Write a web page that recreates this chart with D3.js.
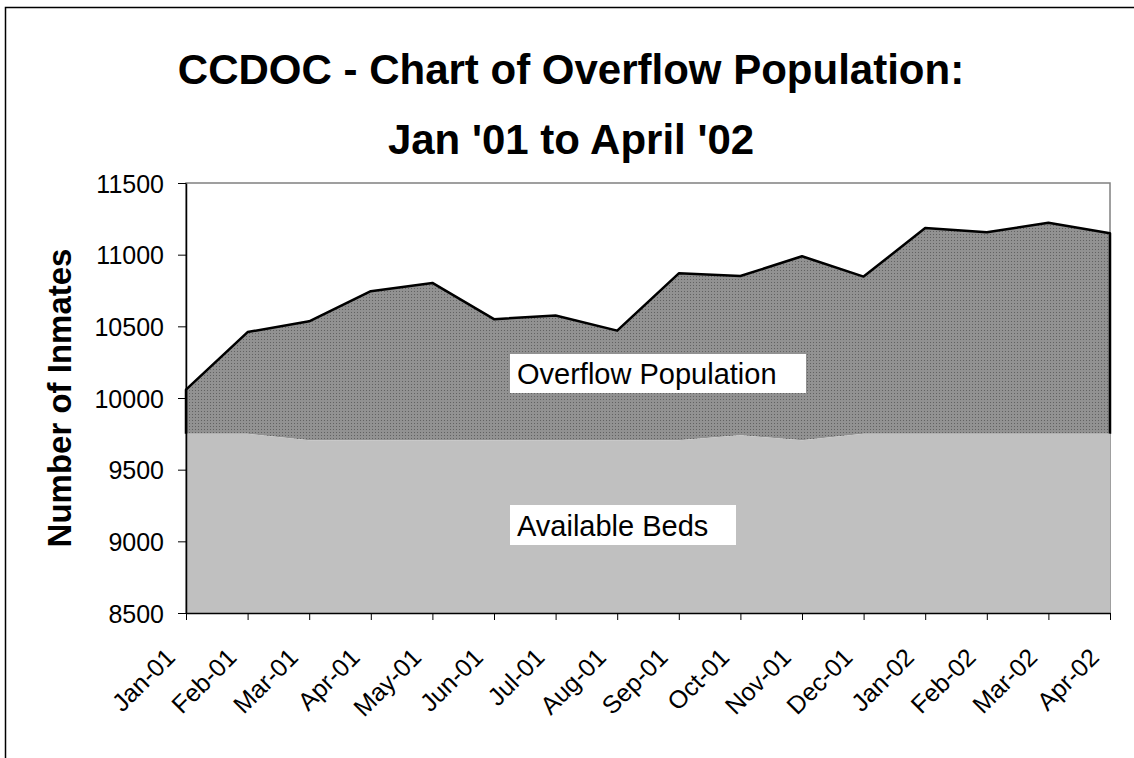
<!DOCTYPE html>
<html>
<head>
<meta charset="utf-8">
<script src="https://cdn.jsdelivr.net/npm/d3@7"></script>
<style>
  body { margin: 0; background: #fff; overflow: hidden; }
  svg { display: block; font-family: Arial, "Liberation Sans", sans-serif; }
</style>
</head>
<body>
<svg id="chart" width="1134" height="758"></svg>
<script>
const months = ["Jan-01", "Feb-01", "Mar-01", "Apr-01", "May-01", "Jun-01", "Jul-01", "Aug-01",
  "Sep-01", "Oct-01", "Nov-01", "Dec-01", "Jan-02", "Feb-02", "Mar-02", "Apr-02"];
const availableBeds = [9750, 9750, 9705, 9705, 9705, 9705, 9705, 9705,
  9705, 9740, 9705, 9750, 9750, 9750, 9750, 9750];
const population = [10058, 10460, 10535, 10745, 10803, 10550, 10575, 10470,
  10870, 10851, 10989, 10847, 11186, 11157, 11222, 11150];
const yTicks = [8500, 9000, 9500, 10000, 10500, 11000, 11500];

const W = 1134, H = 758;
const plot = { left: 186, right: 1110, top: 183, bottom: 613 };
const FONT = "Arial, 'Liberation Sans', sans-serif";

const svg = d3.select("#chart");

// outer chart frame (runs off the right/bottom edge like the original)
svg.append("rect")
  .attr("x", 5.5).attr("y", 7.5)
  .attr("width", W + 20).attr("height", H + 20)
  .attr("fill", "none").attr("stroke", "#000").attr("stroke-width", 1.5);

const defs = svg.append("defs");
const pat = defs.append("pattern")
  .attr("id", "dots").attr("patternUnits", "userSpaceOnUse")
  .attr("width", 3).attr("height", 3);
pat.append("rect").attr("width", 3).attr("height", 3).attr("fill", "#a2a2a2");
pat.append("rect").attr("x", 0).attr("y", 0).attr("width", 1).attr("height", 1).attr("fill", "#626262");
pat.append("rect").attr("x", 1.5).attr("y", 1.5).attr("width", 1).attr("height", 1).attr("fill", "#626262");
pat.append("rect").attr("x", 1.5).attr("y", 0).attr("width", 1).attr("height", 1).attr("fill", "#808080");
pat.append("rect").attr("x", 0).attr("y", 1.5).attr("width", 1).attr("height", 1).attr("fill", "#808080");

const x = d3.scalePoint().domain(months).range([plot.left, plot.right]);
const y = d3.scaleLinear().domain([8500, 11500]).range([plot.bottom, plot.top]);

const rows = months.map((m, i) => ({ m, beds: availableBeds[i], pop: population[i] }));

// plot border (grey top/right)
svg.append("rect")
  .attr("x", plot.left).attr("y", plot.top)
  .attr("width", plot.right - plot.left).attr("height", plot.bottom - plot.top)
  .attr("fill", "none").attr("stroke", "#808080").attr("stroke-width", 1.5);

// overflow area
const overflowArea = d3.area()
  .x(d => x(d.m)).y0(d => y(d.beds)).y1(d => y(d.pop));
svg.append("path").datum(rows)
  .attr("d", overflowArea)
  .attr("fill", "url(#dots)");

// outline: left edge, top line, right edge
const outline = [[x(months[0]), y(availableBeds[0])]]
  .concat(rows.map(d => [x(d.m), y(d.pop)]))
  .concat([[x(months[months.length - 1]), y(availableBeds[availableBeds.length - 1])]]);
svg.append("path")
  .attr("d", d3.line()(outline))
  .attr("fill", "none").attr("stroke", "#000").attr("stroke-width", 2.5)
  .attr("stroke-linejoin", "round");

// available beds area
const bedsArea = d3.area()
  .x(d => x(d.m)).y0(y(8500)).y1(d => y(d.beds));
svg.append("path").datum(rows)
  .attr("d", bedsArea)
  .attr("fill", "#c0c0c0");

// axes
const yAxis = svg.append("g")
  .attr("transform", `translate(${plot.left},0)`)
  .call(d3.axisLeft(y).tickValues(yTicks).tickFormat(d3.format("d"))
    .tickSize(8).tickSizeOuter(0).tickPadding(14));
yAxis.select(".domain").attr("stroke", "#000").attr("stroke-width", 1.5);
yAxis.selectAll(".tick line").attr("stroke", "#000").attr("stroke-width", 1);
yAxis.selectAll("text").attr("font-size", 25).attr("fill", "#000")
  .attr("font-family", FONT).attr("dy", "0.36em");

const xAxis = svg.append("g")
  .attr("transform", `translate(0,${plot.bottom})`)
  .call(d3.axisBottom(x).tickSize(7).tickSizeOuter(0));
xAxis.select(".domain").attr("stroke", "#000").attr("stroke-width", 1.5);
xAxis.selectAll(".tick line").attr("stroke", "#000").attr("stroke-width", 1);
xAxis.selectAll("text")
  .attr("font-size", 25).attr("fill", "#000")
  .attr("font-family", FONT)
  .style("text-anchor", "end")
  .attr("x", 0).attr("y", 0).attr("dx", 0).attr("dy", 0)
  .attr("transform", "translate(-10,46) rotate(-45)");

// titles
svg.append("text")
  .attr("x", 571).attr("y", 84)
  .attr("text-anchor", "middle")
  .attr("font-size", 42).attr("font-weight", "bold")
  .text("CCDOC - Chart of Overflow Population:");
svg.append("text")
  .attr("x", 571).attr("y", 154)
  .attr("text-anchor", "middle")
  .attr("font-size", 42).attr("font-weight", "bold")
  .text("Jan '01 to April '02");

svg.append("text")
  .attr("transform", `translate(71,${(plot.top + plot.bottom) / 2}) rotate(-90)`)
  .attr("text-anchor", "middle")
  .attr("font-size", 33).attr("font-weight", "bold")
  .text("Number of Inmates");

// in-chart labels with white boxes
function boxLabel(tx, ty, txt, bx, by, bw, bh) {
  svg.append("rect").attr("x", bx).attr("y", by).attr("width", bw).attr("height", bh).attr("fill", "#fff");
  svg.append("text").attr("x", tx).attr("y", ty).attr("font-size", 29).text(txt);
}
boxLabel(517, 384, "Overflow Population", 510, 354, 296, 39);
boxLabel(517, 536, "Available Beds", 510, 505, 226, 40);
</script>
</body>
</html>
